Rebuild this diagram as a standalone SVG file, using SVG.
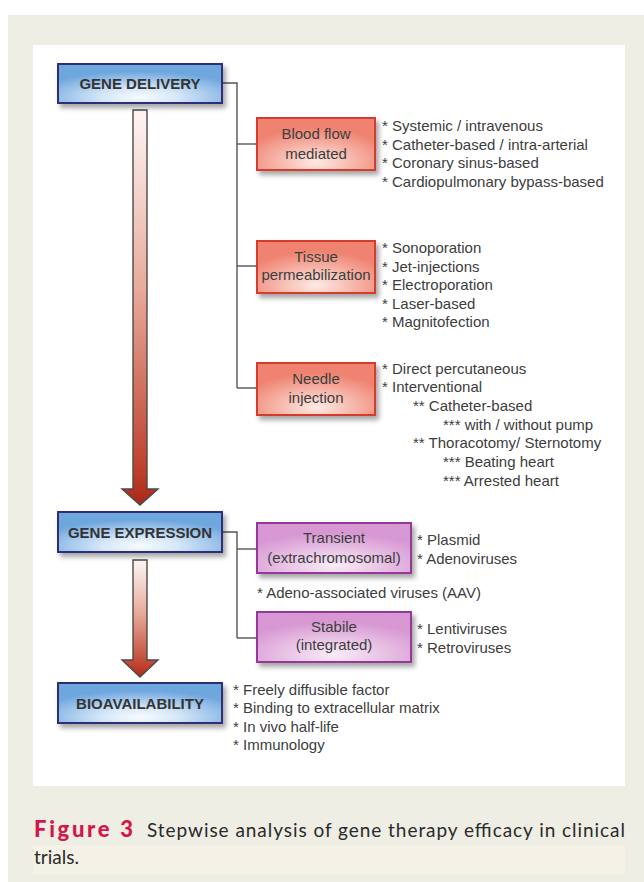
<svg xmlns="http://www.w3.org/2000/svg" width="644" height="882" viewBox="0 0 644 882">
<defs>
<radialGradient id="gBlue" cx="0.5" cy="0.85" r="0.66">
<stop offset="0" stop-color="#f7fbff"/>
<stop offset="0.35" stop-color="#d6e7f8"/>
<stop offset="1" stop-color="#6ea6de"/>
</radialGradient>
<radialGradient id="gRed" cx="0.5" cy="0.85" r="0.66">
<stop offset="0" stop-color="#fdeae4"/>
<stop offset="1" stop-color="#ef8270"/>
</radialGradient>
<radialGradient id="gPurple" cx="0.5" cy="0.85" r="0.66">
<stop offset="0" stop-color="#f9ecf7"/>
<stop offset="1" stop-color="#d797d3"/>
</radialGradient>
<linearGradient id="gArrow" x1="0" y1="0" x2="0" y2="1">
<stop offset="0" stop-color="#fdf6f4"/>
<stop offset="0.45" stop-color="#e8ab9c"/>
<stop offset="0.92" stop-color="#bd3e2a"/>
<stop offset="1" stop-color="#a92818"/>
</linearGradient>
<filter id="shadow" x="-10%" y="-20%" width="130%" height="160%">
<feDropShadow dx="3" dy="4" stdDeviation="2.5" flood-color="#000" flood-opacity="0.35"/>
</filter>
</defs>
<style>
.main{font-family:"Liberation Sans",Arial,sans-serif;font-weight:bold;font-size:15px;fill:#333;text-anchor:middle}
.lab{font-family:"Liberation Sans",Arial,sans-serif;font-size:15px;fill:#3d3d3d;text-anchor:middle}
.lst{font-family:"Liberation Sans",Arial,sans-serif;font-size:15px;fill:#3d3d3d}
.blue{fill:url(#gBlue);stroke:#2f2f78;stroke-width:2}
.red{fill:url(#gRed);stroke:#d43c2e;stroke-width:2}
.purple{fill:url(#gPurple);stroke:#95389a;stroke-width:2}
.conn{fill:none;stroke:#555;stroke-width:1.4}
.arrow{fill:url(#gArrow);stroke:#4a4a4a;stroke-width:1.4;stroke-linejoin:miter}
.cap{font-family:Lato,"Open Sans",sans-serif;font-size:19px;fill:#2a2a2a}
.capb{font-family:Lato,"Open Sans",sans-serif;font-size:22px;font-weight:900;fill:#d3174b}
</style>
<rect x="8" y="15" width="636" height="867" fill="#efeee5"/>
<rect x="33" y="45" width="592" height="741" fill="#ffffff"/>
<rect x="33" y="845" width="592" height="30" fill="#f4f2e6"/>

<g id="connectors">
<polyline class="conn" points="222,83 237,83 237,388"/>
<line class="conn" x1="237" y1="144" x2="257" y2="144"/>
<line class="conn" x1="237" y1="266" x2="257" y2="266"/>
<line class="conn" x1="237" y1="388" x2="257" y2="388"/>
<polyline class="conn" points="222,532 237,532 237,638"/>
<line class="conn" x1="237" y1="549" x2="257" y2="549"/>
<line class="conn" x1="237" y1="638" x2="257" y2="638"/>
<path id="arrow1" class="arrow" d="M133,110 H147 V489 H158 L140,505 L122,489 H133 Z"/>
<path id="arrow2" class="arrow" d="M133,560 H147 V660 H158 L140,677 L122,660 H133 Z"/>
</g>

<g id="gene-delivery">
<rect class="blue" x="58" y="64" width="164" height="39" filter="url(#shadow)"/>
<text class="main" x="140" y="89">GENE DELIVERY</text>
</g>

<g id="blood-flow">
<rect class="red" x="257" y="118" width="118" height="52" filter="url(#shadow)"/>
<text class="lab" x="316" y="139">Blood flow</text>
<text class="lab" x="316" y="159">mediated</text>
<text class="lst" x="382" y="131">* Systemic / intravenous</text>
<text class="lst" x="382" y="150">* Catheter-based / intra-arterial</text>
<text class="lst" x="382" y="168">* Coronary sinus-based</text>
<text class="lst" x="382" y="187">* Cardiopulmonary bypass-based</text>
</g>

<g id="tissue">
<rect class="red" x="257" y="241" width="118" height="52" filter="url(#shadow)"/>
<text class="lab" x="316" y="262">Tissue</text>
<text class="lab" x="316" y="280">permeabilization</text>
<text class="lst" x="382" y="253">* Sonoporation</text>
<text class="lst" x="382" y="272">* Jet-injections</text>
<text class="lst" x="382" y="290">* Electroporation</text>
<text class="lst" x="382" y="309">* Laser-based</text>
<text class="lst" x="382" y="327">* Magnitofection</text>
</g>

<g id="needle">
<rect class="red" x="257" y="363" width="118" height="52" filter="url(#shadow)"/>
<text class="lab" x="316" y="384">Needle</text>
<text class="lab" x="316" y="403">injection</text>
<text class="lst" x="382" y="374">* Direct percutaneous</text>
<text class="lst" x="382" y="392">* Interventional</text>
<text class="lst" x="413" y="411">** Catheter-based</text>
<text class="lst" x="443" y="430">*** with / without pump</text>
<text class="lst" x="413" y="448">** Thoracotomy/ Sternotomy</text>
<text class="lst" x="443" y="467">*** Beating heart</text>
<text class="lst" x="443" y="486">*** Arrested heart</text>
</g>

<g id="gene-expression">
<rect class="blue" x="58" y="512" width="164" height="40" filter="url(#shadow)"/>
<text class="main" x="140" y="537.5">GENE EXPRESSION</text>
</g>

<g id="transient">
<rect class="purple" x="257" y="523" width="154" height="50" filter="url(#shadow)"/>
<text class="lab" x="334" y="543">Transient</text>
<text class="lab" x="334" y="563">(extrachromosomal)</text>
<text class="lst" x="417" y="545">* Plasmid</text>
<text class="lst" x="417" y="564">* Adenoviruses</text>
</g>

<g id="aav">
<text class="lst" x="257" y="598">* Adeno-associated viruses (AAV)</text>
</g>

<g id="stabile">
<rect class="purple" x="257" y="612" width="154" height="50" filter="url(#shadow)"/>
<text class="lab" x="334" y="632">Stabile</text>
<text class="lab" x="334" y="650">(integrated)</text>
<text class="lst" x="417" y="634">* Lentiviruses</text>
<text class="lst" x="417" y="653">* Retroviruses</text>
</g>

<g id="bioavailability">
<rect class="blue" x="58" y="683" width="164" height="40" filter="url(#shadow)"/>
<text class="main" x="140" y="708.5">BIOAVAILABILITY</text>
<text class="lst" x="233" y="695">* Freely diffusible factor</text>
<text class="lst" x="233" y="713">* Binding to extracellular matrix</text>
<text class="lst" x="233" y="732">* In vivo half-life</text>
<text class="lst" x="233" y="750">* Immunology</text>
</g>

<g id="caption">
<text class="capb" x="34" y="837" textLength="99" lengthAdjust="spacing">Figure 3</text>
<text class="cap" x="147" y="837" textLength="478" lengthAdjust="spacing">Stepwise analysis of gene therapy efficacy in clinical</text>
<text class="cap" x="34" y="864">trials.</text>
</g>
</svg>
